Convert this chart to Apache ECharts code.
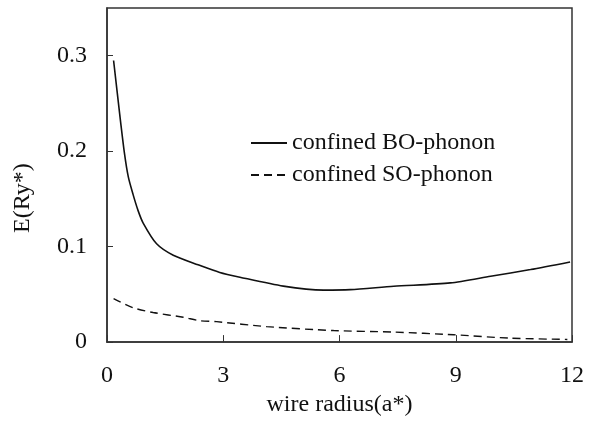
<!DOCTYPE html>
<html>
<head>
<meta charset="utf-8">
<script src="https://cdn.jsdelivr.net/npm/echarts@6/dist/echarts.min.js"></script>
<style>html,body{margin:0;padding:0;background:#fff}#c{width:591px;height:422px}</style>
</head>
<body>
<div id="c"></div>
<script>
var boX = [0.17, 0.33, 0.45, 0.55, 0.67, 0.8, 0.93, 1.28, 1.71, 2.35, 2.91, 3.43, 4.55, 5.59, 6.28, 7.4, 8.86, 9.9, 10.93, 11.95];
var boY = [0.295, 0.238, 0.198, 0.173, 0.155, 0.138, 0.125, 0.103, 0.091, 0.081, 0.073, 0.068, 0.0586, 0.0545, 0.055, 0.0585, 0.062, 0.069, 0.076, 0.084];
var soX = [0.17, 0.67, 1.19, 1.97, 2.4, 2.83, 4.12, 5.85, 7.4, 8.95, 10.41, 11.88];
var soY = [0.0455, 0.036, 0.031, 0.026, 0.0224, 0.0214, 0.0162, 0.0121, 0.0105, 0.0077, 0.0041, 0.0028];
var seriesNames = ['confined BO-phonon', 'confined SO-phonon'];
var xTicks = [0, 3, 6, 9, 12];
var yTicks = [0, 0.1, 0.2, 0.3];

function pairs(xs, ys) { return xs.map(function (x, i) { return [x, ys[i]]; }); }

var font = 'Liberation Serif';
var chart = echarts.init(document.getElementById('c'), null, {renderer: 'canvas'});
chart.setOption({
  animation: false,
  backgroundColor: '#fff',
  grid: {left: 107, right: 19, top: 8, bottom: 75, show: true, borderColor: '#333', borderWidth: 1.5, backgroundColor: 'transparent'},
  legend: {
    orient: 'vertical', left: 250, top: 131, padding: 0, itemWidth: 36, itemHeight: 14, itemGap: 8,
    textStyle: {fontFamily: font, fontSize: 24, color: '#111'},
    itemStyle: {color: 'transparent', borderWidth: 0, opacity: 0},
    data: seriesNames
  },
  xAxis: {
    type: 'value', min: xTicks[0], max: xTicks[xTicks.length - 1], interval: 3,
    name: 'wire radius(a*)', nameLocation: 'middle', nameGap: 50,
    nameTextStyle: {fontFamily: font, fontSize: 24, color: '#111'},
    axisLine: {lineStyle: {color: '#333', width: 1.5}},
    axisTick: {inside: true, length: 7, lineStyle: {color: '#333', width: 1}},
    axisLabel: {fontFamily: font, fontSize: 24, color: '#111', margin: 22},
    splitLine: {show: false}
  },
  yAxis: {
    type: 'value', min: 0, max: 0.35, interval: 0.1,
    name: 'E(Ry*)', nameLocation: 'middle', nameGap: 72, nameRotate: 90,
    nameTextStyle: {fontFamily: font, fontSize: 24, color: '#111', padding: [0, 46, 0, 0]},
    axisLine: {lineStyle: {color: '#333', width: 1.5}},
    axisTick: {inside: true, length: 6, lineStyle: {color: '#333', width: 1}},
    axisLabel: {fontFamily: font, fontSize: 24, color: '#111', margin: 20, showMaxLabel: false,
      formatter: function (v) { return v === 0 ? '0' : v.toFixed(1); }},
    splitLine: {show: false}
  },
  series: [
    {name: seriesNames[0], type: 'line', data: pairs(boX, boY), symbol: 'none', smooth: 0.25,
      lineStyle: {color: '#111', width: 1.6, type: 'solid'}, itemStyle: {color: '#111'}},
    {name: seriesNames[1], type: 'line', data: pairs(soX, soY), symbol: 'none', smooth: 0.25,
      lineStyle: {color: '#111', width: 1.4, type: [8, 5]}, itemStyle: {color: '#111'}}
  ]
});
</script>
</body>
</html>
